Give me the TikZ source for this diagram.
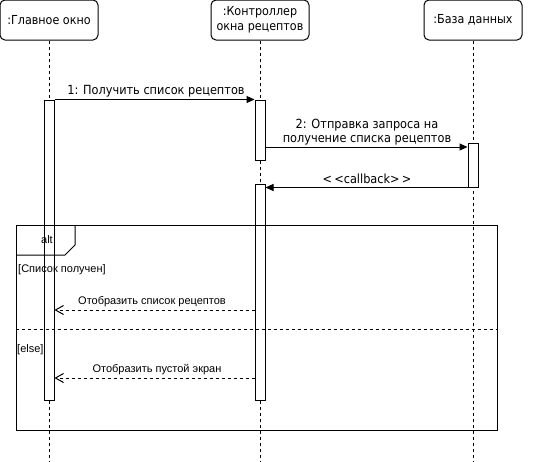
\documentclass[tikz,border=0pt]{standalone}
\usepackage{fontspec}
\setmainfont{DejaVu Sans Condensed}
\newfontfamily\framefont{Liberation Sans}
\usetikzlibrary{arrows.meta}

\tikzset{
  head/.style={rectangle, rounded corners=5pt, draw, line width=1pt, minimum width=98pt, minimum height=40pt, align=center, inner sep=1pt, font=\fontsize{12.4}{14.5}\selectfont},
  act/.style={rectangle, draw, fill=white, line width=1pt, minimum width=10pt, inner sep=0pt},
  lifeline/.style={line width=1pt, dash pattern=on 3pt off 3pt},
  msg/.style={line width=1pt, -{Triangle[length=8pt,width=7pt]}},
  ret/.style={line width=1pt, dash pattern=on 3pt off 3pt, -{Straight Barb[length=8pt,width=9pt]}},
  msglabel/.style={font=\fontsize{12.6}{14}\selectfont, align=center, inner sep=1pt},
  framelabel/.style={font=\framefont\fontsize{11}{13}\selectfont, inner sep=1pt}
}

\begin{document}
\begin{tikzpicture}[x=1pt, y=-1pt]
  \useasboundingbox (0,0) rectangle (533,461);

  % participants
  \node[head] (main) at (49,20) {:Главное окно};
  \node[head] (ctrl) at (260,20) {:Контроллер\\окна рецептов};
  \node[head] (db) at (473,20) {:База данных};

  % lifelines
  \coordinate (mainEnd) at (49,461);
  \coordinate (ctrlEnd) at (260,461);
  \coordinate (dbEnd) at (473,461);
  \draw[lifeline] (main.south) -- (mainEnd);
  \draw[lifeline] (ctrl.south) -- (ctrlEnd);
  \draw[lifeline] (db.south) -- (dbEnd);

  % activations
  \node[act, minimum height=300pt] (mainAct) at (49,250) {};
  \node[act, minimum height=60pt] (ctrlAct1) at (260,130) {};
  \node[act, minimum height=216pt] (ctrlAct2) at (260,292) {};
  \node[act, minimum height=44pt] (dbAct) at (473,165) {};

  % messages
  \draw[msg] (mainAct.north east) -- (ctrlAct1.north west);
  \node[msglabel] (m1) at (156,91) {1: Получить список рецептов};

  \draw[msg] (ctrlAct1.east |- 0,147) -- (dbAct.west |- 0,147);
  \node[msglabel] (m2) at (367,132) {2: Отправка запроса на\\получение списка рецептов};

  \draw[msg] (dbAct.south west) -- (ctrlAct2.east |- dbAct.south);
  \node[msglabel] (cb) at (367,179) {{<}\,{<}callback{>}\,{>}};

  % alt fragment
  \node[draw, line width=1pt, anchor=north west, minimum width=481pt, minimum height=205pt, inner sep=0pt] (altFrame) at (16,225) {};
  \draw[line width=1pt] (altFrame.north west) ++(59,0) -- ++(0,20) -- ++(-10,10) -- (altFrame.west |- 0,255);
  \node[framelabel] (altLabel) at (47,240) {alt};
  \node[framelabel, anchor=west] (guard1) at (17,270) {[Список получен]};

  \draw[ret] (ctrlAct2.west |- 0,310) -- (mainAct.east |- 0,310);
  \node[framelabel] (r1) at (152,302) {Отобразить список рецептов};

  \draw[lifeline] (altFrame.west |- 0,329) -- (altFrame.east |- 0,329);
  \node[framelabel, anchor=west] (guard2) at (16,350) {[else]};

  \draw[ret] (ctrlAct2.west |- 0,378) -- (mainAct.east |- 0,378);
  \node[framelabel] (r2) at (157,370) {Отобразить пустой экран};
\end{tikzpicture}
\end{document}
